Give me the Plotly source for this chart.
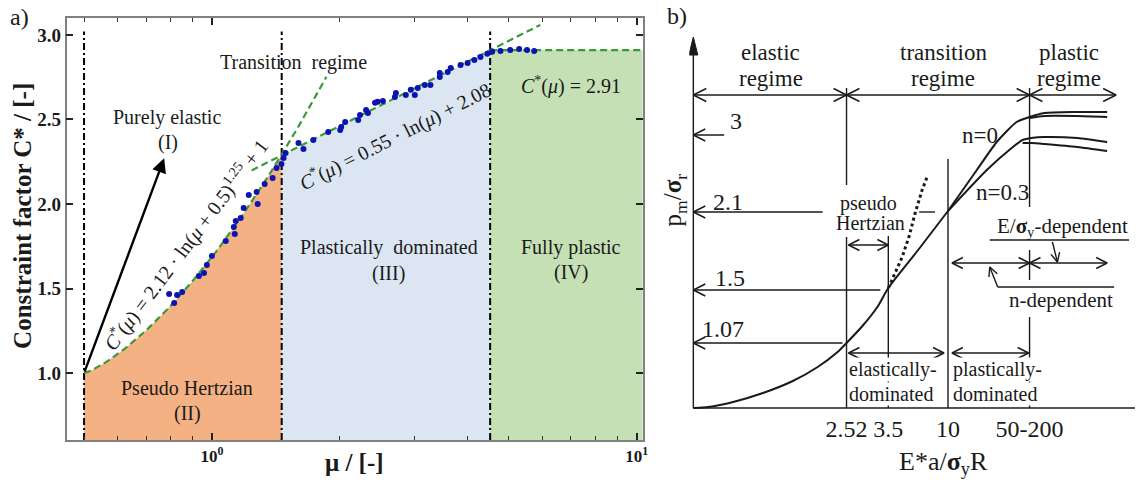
import numpy as np
import plotly.graph_objects as go

FIG_W, FIG_H = 1141, 484
SERIF = "Liberation Serif, Times New Roman, serif"
INK = "#1a1a1a"

# ---------------- panel a: constraint factor C* versus mu ----------------
mu_points = [0.793, 0.815, 0.828, 0.851, 0.932, 0.958, 0.973, 1.000, 1.078, 1.126,
             1.132, 1.138, 1.169, 1.188, 1.221, 1.274, 1.282, 1.331, 1.390, 1.420,
             1.458, 1.475, 1.491, 1.599, 1.643, 1.733, 1.879, 2.005, 2.016, 2.060,
             2.210, 2.232, 2.307, 2.330, 2.422, 2.455, 2.527, 2.697, 2.712, 2.861,
             2.940, 3.004, 3.053, 3.171, 3.270, 3.440, 3.440, 3.590, 3.650, 3.850,
             4.000, 4.150, 4.290, 4.450, 4.570, 4.780, 5.040, 5.290, 5.520, 5.740]
c_points = [1.467, 1.414, 1.462, 1.479, 1.574, 1.592, 1.639, 1.692, 1.781, 1.864,
            1.822, 1.899, 1.917, 1.976, 2.053, 2.071, 2.000, 2.118, 2.154, 2.213,
            2.237, 2.272, 2.302, 2.361, 2.325, 2.379, 2.426, 2.438, 2.456, 2.485,
            2.497, 2.527, 2.556, 2.538, 2.598, 2.604, 2.609, 2.633, 2.657, 2.645,
            2.675, 2.645, 2.686, 2.704, 2.704, 2.751, 2.775, 2.781, 2.805, 2.822,
            2.834, 2.852, 2.870, 2.888, 2.900, 2.905, 2.911, 2.917, 2.911, 2.905]

# fitted laws of the regimes
elastic_a, elastic_shift, elastic_pow, elastic_off = 2.12, 0.5, 1.25, 1.0
plastic_a, plastic_b = 0.55, 2.08
c_full_plastic = 2.91
regime_bounds = [0.5, 1.46, 4.52]          # mu at the regime borders
elastic_fit_span = [0.5, 1.86]
plastic_fit_span = [1.24, 5.93]
mu_range = [0.455, 10.33]
c_range = [0.604, 3.10]
c_ticks = [1.0, 1.5, 2.0, 2.5, 3.0]
mu_ticks = [1, 10]
mu_tick_text = ["10<sup>0</sup>", "10<sup>1</sup>"]
mu_minor = [0.5, 0.6, 0.7, 0.8, 0.9, 2, 3, 4, 5, 6, 7, 8, 9]


def c_elastic(mu):
    return elastic_a * np.log(mu + elastic_shift) ** elastic_pow + elastic_off


def c_plastic(mu):
    return plastic_a * np.log(mu) + plastic_b


# ---------------- panel b: schematic p_m / sigma_r (drawing units) ----------------
b_curve_u = [0, 15, 40, 70, 100, 125, 145, 154, 170, 185, 196, 226, 256]
b_curve_v = [0, 1, 6, 15, 27, 41, 56, 65, 82, 101, 120, 158, 197]
b_n0_u = [256, 285, 305, 325, 338, 353, 385, 416]
b_n0_v = [197, 238, 266, 286, 291, 295, 296, 296]
b_n0b_u = [338, 353, 385, 416]
b_n0b_v = [290, 292, 292, 291]
b_n03_u = [256, 295, 320, 331, 340, 353, 386, 416]
b_n03_v = [197, 238, 260, 268, 270, 271, 270, 266]
b_n03b_u = [331, 340, 353, 386, 416]
b_n03b_v = [265, 265, 264, 261, 257]
b_hertz_u = [196, 203, 210, 217, 223, 230, 235]
b_hertz_v = [120, 136, 151, 172, 195, 218, 231]
b_level_text = ["1.07", "1.5", "2.1", "3"]
b_level_v = [65, 118, 196, 273]
b_level_tail_u = [150, 188, 130, 31]
b_xtick_u = [154, 196, 256, 338]
b_xtick_text = ["2.52", "3.5", "10", "50-200"]
b_regime_v = 313
b_regime_u = [0, 154, 338, 425]
b_axis_top = 371
b_axis_right = 444

ORANGE = "#F4B183"
LBLUE = "#DCE6F3"
LGREEN = "#C5E0B4"
GDASH = "#3a9a3a"
DOTS = "#0b14b0"

fig = go.Figure()

# regime fills
m1 = np.geomspace(regime_bounds[0], regime_bounds[1], 80)
m2 = np.geomspace(regime_bounds[1], regime_bounds[2], 80)
fig.add_trace(go.Scatter(x=m1, y=c_elastic(m1), mode="lines", fill="tozeroy",
                         fillcolor=ORANGE, line=dict(width=0), hoverinfo="skip"))
fig.add_trace(go.Scatter(x=m2, y=c_plastic(m2), mode="lines", fill="tozeroy",
                         fillcolor=LBLUE, line=dict(width=0), hoverinfo="skip"))
fig.add_trace(go.Scatter(x=[regime_bounds[2], mu_range[1] * 1.05],
                         y=[c_full_plastic, c_full_plastic], mode="lines",
                         fill="tozeroy", fillcolor=LGREEN, line=dict(width=0),
                         hoverinfo="skip"))

# regime borders (dash-dot)
bx, by = [], []
for b in regime_bounds:
    bx += [b, b, None]
    by += [c_range[0], 3.02, None]
fig.add_trace(go.Scatter(x=bx, y=by, mode="lines",
                         line=dict(color="black", width=2, dash="7px,3px,2px,3px"),
                         hoverinfo="skip"))

# fitted laws (dashed green)
f1 = np.geomspace(*elastic_fit_span, 80)
f2 = np.geomspace(*plastic_fit_span, 80)
for xs, ys in [(f1, c_elastic(f1)), (f2, c_plastic(f2)),
               ([regime_bounds[2], mu_range[1]], [c_full_plastic, c_full_plastic])]:
    fig.add_trace(go.Scatter(x=xs, y=ys, mode="lines",
                             line=dict(color=GDASH, width=2.2, dash="7px,4px"),
                             hoverinfo="skip"))

# simulation points
fig.add_trace(go.Scatter(x=mu_points, y=c_points, mode="markers",
                         marker=dict(color=DOTS, size=6), hoverinfo="skip"))

# ---------------- panel b traces ----------------
for us, vs in [(b_curve_u, b_curve_v), (b_n0_u, b_n0_v), (b_n0b_u, b_n0b_v),
               (b_n03_u, b_n03_v), (b_n03b_u, b_n03b_v)]:
    fig.add_trace(go.Scatter(x=us, y=vs, xaxis="x2", yaxis="y2", mode="lines",
                             line=dict(color=INK, width=2, shape="spline", smoothing=0.6),
                             hoverinfo="skip"))
fig.add_trace(go.Scatter(x=b_hertz_u, y=b_hertz_v, xaxis="x2", yaxis="y2", mode="lines",
                         line=dict(color=INK, width=3, dash="dot"), hoverinfo="skip"))

# straight guide lines of the schematic
guide = [((0, 0), (b_axis_right, 0)), ((0, 0), (0, b_axis_top - 14)),
         ((154, 0), (154, 171)), ((154, 223), (154, 320)),
         ((196, 0), (196, 172)),
         ((256, 0), (256, 249)),
         ((338, 0), (338, 91)), ((338, 128), (338, 158)), ((338, 201), (338, 320)),
         ((227, 196), (243, 196)),
         ((298, 168), (438, 168)),
         ((306, 121), (423, 121))]

# dimension arrows: (tip, tail, double-headed, head length, head half-width)
arrows = [((0, v), (tu, v), False, 12, 6) for v, tu in zip(b_level_v, b_level_tail_u)]
arrows += [((u1, b_regime_v), (u0, b_regime_v), True, 13, 6.5)
           for u0, u1 in zip(b_regime_u[:-1], b_regime_u[1:])]
arrows += [((196, 163), (156, 163), True, 11, 5.5),
           ((252, 55), (156, 55), True, 11, 5.5),
           ((337, 55), (260, 55), True, 11, 5.5),
           ((338, 145), (260, 145), True, 11, 5.5),
           ((416, 145), (338, 145), True, 11, 5.5),
           ((298, 141), (306, 121), False, 9, 4.5),
           ((366, 146), (361, 166), False, 9, 4.5)]


def chevron(tip, tail, length, half):
    d = np.array(tip, float) - np.array(tail, float)
    d /= np.hypot(*d)
    n = np.array([-d[1], d[0]])
    base = np.array(tip, float) - length * d
    a, b = base + half * n, base - half * n
    return [a[0], tip[0], b[0], None], [a[1], tip[1], b[1], None]


gx, gy = [], []
for (u0, v0), (u1, v1) in guide:
    gx += [u0, u1, None]
    gy += [v0, v1, None]
for tip, tail, both, hl, hw in arrows:
    gx += [tail[0], tip[0], None]
    gy += [tail[1], tip[1], None]
    cx, cy = chevron(tip, tail, hl, hw)
    gx += cx
    gy += cy
    if both:
        cx, cy = chevron(tail, tip, hl, hw)
        gx += cx
        gy += cy
fig.add_trace(go.Scatter(x=gx, y=gy, xaxis="x2", yaxis="y2", mode="lines",
                         line=dict(color=INK, width=1.4), hoverinfo="skip"))

# solid head of the ordinate arrow
fig.add_trace(go.Scatter(x=[-4.5, 0, 4.5, -4.5], y=[b_axis_top - 18, b_axis_top,
                                                   b_axis_top - 18, b_axis_top - 18],
                         xaxis="x2", yaxis="y2", mode="lines", fill="toself",
                         fillcolor=INK, line=dict(color=INK, width=1), hoverinfo="skip"))

annotations = []


def px(x, y):
    return x / FIG_W, 1 - y / FIG_H


def label(text, x, y, size, angle=0, bold=False, xanchor="center"):
    xp, yp = px(x, y)
    annotations.append(dict(text=text, x=xp, y=yp, xref="paper", yref="paper",
                            showarrow=False, textangle=angle, xanchor=xanchor,
                            yanchor="middle",
                            font=dict(family=SERIF, size=size, color=INK,
                                      weight="bold" if bold else "normal")))


def blabel(text, u, v, size, xanchor="center", yanchor="middle", bg=None):
    annotations.append(dict(text=text, x=u, y=v, xref="x2", yref="y2",
                            showarrow=False, xanchor=xanchor, yanchor=yanchor,
                            borderpad=0, bgcolor=bg,
                            font=dict(family=SERIF, size=size, color=INK)))


# panel a labels
label("a)", 20, 17, 24)
label("Constraint factor C* / [-]", 22, 216, 25, angle=-90, bold=True)
label("μ / [-]", 356, 462, 25, bold=True)
label("Purely elastic", 168, 118, 20)
label("(I)", 169, 143, 20)
label("Transition  regime", 295, 62, 20)
label("Pseudo Hertzian", 188, 388, 20)
label("(II)", 188, 413, 20)
label("Plastically  dominated", 391, 247, 20)
label("(III)", 391, 273, 20)
label("Fully plastic", 574, 247, 20)
label("(IV)", 574, 272, 20)
label("<i>C</i><sup>*</sup>(<i>μ</i>) = %.2f · ln(<i>μ</i> + %.1f)<sup>%.2f</sup> + %d"
      % (elastic_a, elastic_shift, elastic_pow, elastic_off), 186, 244, 20, angle=-53)
label("<i>C</i><sup>*</sup>(<i>μ</i>) = %.2f · ln(<i>μ</i>) + %.2f" % (plastic_a, plastic_b),
      397, 136, 20, angle=-27)
label("<i>C</i><sup>*</sup>(<i>μ</i>) = %.2f" % c_full_plastic, 574, 86, 20)

# elastic-loading arrow
annotations.append(dict(text="", x=np.log10(0.772), y=2.27, ax=np.log10(0.5), ay=1.0,
                        xref="x", yref="y", axref="x", ayref="y", showarrow=True,
                        arrowhead=2, arrowsize=1.2, arrowwidth=2.4, arrowcolor="black",
                        standoff=0))

# panel b labels
label("b)", 681, 16, 24)
label("p<sub>m</sub>/<b>σ</b><sub>r</sub>", 679, 200, 25, angle=-90)
label("E*a/<b>σ</b><sub>y</sub>R", 948, 463, 26)
for txt, u in [("elastic", 78), ("transition", 251), ("plastic", 378)]:
    blabel(txt, u, 356, 23)
    blabel("regime", u, 330, 23)
for txt, u, v in zip(b_level_text, [30, 37, 35, 43], [79, 130, 206, 287]):
    blabel(txt, u, v, 24)
blabel("pseudo", 176, 205, 20)
blabel("Hertzian", 178, 185, 20)
blabel("n=0", 288, 273, 23)
blabel("n=0.3", 311, 216, 23)
blabel("E/<b>σ</b><sub>y</sub>-dependent", 371, 181, 21)
blabel("n-dependent", 370, 108, 21)
for u, word in [(155, "elastically-"), (260, "plastically-")]:
    blabel(word, u, 26, 20, xanchor="left", yanchor="bottom", bg="white")
    blabel("dominated", u, 26, 20, xanchor="left", yanchor="top", bg="white")

axis_common = dict(showgrid=False, zeroline=False)
fig.update_layout(
    width=FIG_W, height=FIG_H,
    margin=dict(l=0, r=0, t=0, b=0),
    paper_bgcolor="white", plot_bgcolor="white",
    showlegend=False,
    annotations=annotations,
    xaxis=dict(type="log", range=[np.log10(mu_range[0]), np.log10(mu_range[1])],
               domain=[67 / FIG_W, 646 / FIG_W], anchor="y",
               showline=True, linecolor="#808080", linewidth=1.5, mirror="ticks",
               ticks="inside", ticklen=7, tickwidth=1.5, tickcolor="#222",
               tickvals=mu_ticks, ticktext=mu_tick_text,
               tickfont=dict(family=SERIF, size=17, color=INK, weight="bold"),
               minor=dict(ticks="inside", ticklen=4, tickwidth=1.2, tickcolor="#333",
                          tickvals=mu_minor),
               **axis_common),
    yaxis=dict(range=c_range, domain=[(FIG_H - 440) / FIG_H, (FIG_H - 18) / FIG_H],
               anchor="x", showline=True, linecolor="#808080", linewidth=1.5,
               mirror="ticks", ticks="inside", ticklen=7, tickwidth=1.5, tickcolor="#222",
               tickvals=c_ticks, ticktext=["%.1f" % t for t in c_ticks],
               tickfont=dict(family=SERIF, size=19, color=INK, weight="bold"),
               **axis_common),
    xaxis2=dict(range=[-4, 444], domain=[693 / FIG_W, 1.0], anchor="y2",
                showline=False, ticks="", tickvals=b_xtick_u, ticktext=b_xtick_text,
                ticklabelstandoff=0,
                tickfont=dict(family=SERIF, size=24, color=INK), **axis_common),
    yaxis2=dict(range=[-4, 408], domain=[(FIG_H - 412) / FIG_H, 1.0], anchor="x2",
                visible=False, **axis_common),
)

fig.write_html("out.html")
